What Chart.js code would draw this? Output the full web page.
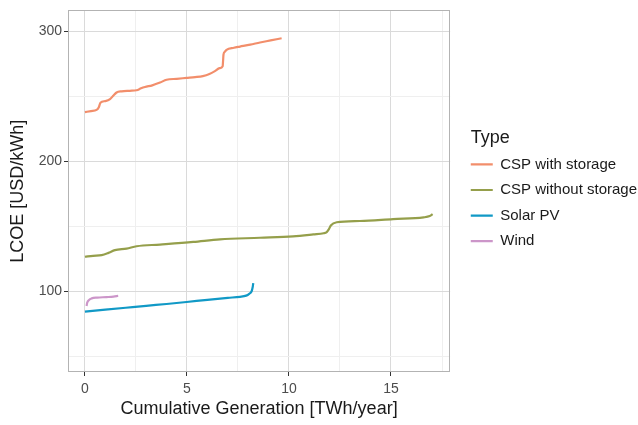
<!DOCTYPE html>
<html>
<head>
<meta charset="utf-8">
<script src="https://cdn.jsdelivr.net/npm/chart.js@4"></script>
<style>
  html, body { margin: 0; padding: 0; background: #ffffff; }
  #wrap { width: 638px; height: 425px; overflow: hidden; }
</style>
</head>
<body>
<div id="wrap"><canvas id="c" width="638" height="425"></canvas></div>
<script>
// Cumulative generation (TWh/year) and LCOE (USD/kWh) supply curves per technology
const cspStorageX = [0, 0.3, 0.57, 0.68, 0.76, 1.0, 1.23, 1.4, 1.55, 1.8, 2.2, 2.53, 2.75, 2.94, 3.3, 3.68, 4.0, 4.5, 4.98, 5.4, 5.78, 6.1, 6.37, 6.6, 6.75, 6.77, 6.79, 6.85, 6.94, 7.3, 7.6, 8.1, 8.58, 9.1, 9.64];
const cspStorageY = [237.7, 238.5, 239.4, 241.5, 244.9, 246.2, 247.7, 250.5, 252.8, 253.7, 254.1, 254.5, 256, 257, 258.3, 260.4, 262.6, 263.3, 264, 264.6, 265.4, 267, 269.2, 271.5, 273, 277, 281.8, 284, 285.6, 287.2, 288.1, 289.6, 291.2, 292.8, 294.5];

const cspNoStorageX = [0, 0.4, 0.82, 1.15, 1.47, 2.04, 2.53, 3.68, 5.31, 6.62, 8.58, 10.2, 11.19, 11.7, 11.85, 11.95, 12.05, 12.34, 13.48, 15.1, 16.6, 16.9, 17.04];
const cspNoStorageY = [126.5, 127.2, 127.8, 129.5, 131.6, 132.8, 134.6, 135.9, 137.9, 139.9, 141.1, 142.2, 143.7, 144.6, 145.5, 147.5, 150.5, 153, 154, 155.5, 156.8, 157.8, 159.3];

const solarPvX = [0, 1, 2, 3, 4, 4.98, 6, 7, 7.6, 7.9, 8.05, 8.17, 8.22, 8.25];
const solarPvY = [84.3, 85.8, 87.3, 88.8, 90.2, 91.7, 93.4, 94.9, 95.7, 96.6, 98, 100, 103, 106.3];

const windX = [0.08, 0.11, 0.2, 0.33, 0.6, 1.06, 1.4, 1.63];
const windY = [88.6, 91.1, 93.3, 94.5, 95.1, 95.5, 95.9, 96.5];

const seriesNames = ['CSP with storage', 'CSP without storage', 'Solar PV', 'Wind'];
const seriesColors = ['#F28E6B', '#959F4B', '#1199C6', '#CC96C9'];
const legendHeading = 'Type';

const xTicks = [0, 2.5, 5, 7.5, 10, 12.5, 15, 17.5];
const yTicks = [50, 100, 150, 200, 250, 300];

const FONT = '"Liberation Sans", Arial, Helvetica, sans-serif';

function pairs(xs, ys) { return xs.map((x, i) => ({ x: x, y: ys[i] })); }
const seriesData = [
  pairs(cspStorageX, cspStorageY),
  pairs(cspNoStorageX, cspNoStorageY),
  pairs(solarPvX, solarPvY),
  pairs(windX, windY)
];

const isMajorX = v => v % 5 === 0;
const isMajorY = v => v % 100 === 0;

// grey frame around the plotting panel
const panelFrame = {
  id: 'panelFrame',
  beforeDatasetsDraw(chart) {
    const a = chart.chartArea, ctx = chart.ctx;
    ctx.save();
    ctx.strokeStyle = '#B3B3B3';
    ctx.lineWidth = 1;
    ctx.strokeRect(Math.round(a.left) + 0.5, Math.round(a.top) + 0.5,
                   Math.round(a.right - a.left) - 1, Math.round(a.bottom - a.top) - 1);
    ctx.restore();
  }
};

// legend heading, left-aligned with the legend keys
const legendTitle = {
  id: 'legendTitle',
  afterDraw(chart) {
    const lg = chart.legend;
    if (!lg || !lg.legendHitBoxes || !lg.legendHitBoxes.length) return;
    const hb = lg.legendHitBoxes[0];
    const ctx = chart.ctx;
    ctx.save();
    ctx.fillStyle = '#1A1A1A';
    ctx.font = '18px ' + FONT;
    ctx.textAlign = 'left';
    ctx.textBaseline = 'middle';
    ctx.fillText(legendHeading, hb.left, hb.top + hb.height / 2 - 26);
    ctx.restore();
  }
};

new Chart(document.getElementById('c'), {
  type: 'line',
  data: {
    datasets: seriesData.map((d, i) => ({
      label: seriesNames[i],
      data: d,
      borderColor: seriesColors[i],
      backgroundColor: seriesColors[i],
      borderWidth: 2.2,
      pointRadius: 0,
      cubicInterpolationMode: 'monotone',
      fill: false
    }))
  },
  options: {
    responsive: false,
    animation: false,
    devicePixelRatio: 1,
    // the legend box carries some trailing blank space, let it run past the right edge
    layout: { padding: { top: 5, left: 0, right: -9, bottom: 0 } },
    plugins: {
      tooltip: { enabled: false },
      legend: {
        position: 'right',
        align: 'center',
        fullSize: false,
        maxWidth: 220,
        title: {
          display: true,
          text: '',
          font: { family: FONT, size: 18 },
          padding: { top: 0, bottom: 1.6 }
        },
        labels: {
          usePointStyle: true,
          pointStyle: 'line',
          pointStyleWidth: 22,
          padding: 10.6,
          color: '#1A1A1A',
          font: { family: FONT, size: 15 }
        }
      }
    },
    scales: {
      x: {
        type: 'linear',
        min: -0.83,
        max: 17.9,
        afterBuildTicks: s => { s.ticks = xTicks.map(v => ({ value: v })); },
        afterFit: s => { s.height = 53; },
        border: { display: false },
        grid: {
          color: c => (c.tick && isMajorX(c.tick.value)) ? '#DADADA' : '#EFEFEF',
          lineWidth: 1,
          drawTicks: true,
          tickLength: 4,
          tickColor: c => (c.tick && isMajorX(c.tick.value)) ? '#333333' : 'rgba(0,0,0,0)'
        },
        ticks: {
          autoSkip: false,
          maxRotation: 0,
          padding: 5,
          color: '#4D4D4D',
          font: { family: FONT, size: 14 },
          callback: v => isMajorX(v) ? String(v) : ''
        },
        title: {
          display: true,
          text: 'Cumulative Generation [TWh/year]',
          color: '#1A1A1A',
          font: { family: FONT, size: 18 },
          padding: { top: 0, bottom: 5 }
        }
      },
      y: {
        type: 'linear',
        min: 37.9,
        max: 315.9,
        afterBuildTicks: s => { s.ticks = yTicks.map(v => ({ value: v })); },
        afterFit: s => { s.width = 68; },
        border: { display: false },
        grid: {
          color: c => (c.tick && isMajorY(c.tick.value)) ? '#DADADA' : '#EFEFEF',
          lineWidth: 1,
          drawTicks: true,
          tickLength: 4,
          tickColor: c => (c.tick && isMajorY(c.tick.value)) ? '#333333' : 'rgba(0,0,0,0)'
        },
        ticks: {
          autoSkip: false,
          padding: 2,
          color: '#4D4D4D',
          font: { family: FONT, size: 14 },
          callback: v => isMajorY(v) ? String(v) : ''
        },
        title: {
          display: true,
          text: 'LCOE [USD/kWh]',
          color: '#1A1A1A',
          font: { family: FONT, size: 18 },
          padding: { top: 7, bottom: 0 }
        }
      },
      // empty axis that keeps a gap between the panel and the legend
      gap: {
        type: 'linear',
        position: 'right',
        display: true,
        afterFit: s => { s.width = 10; },
        border: { display: false },
        grid: { display: false, drawTicks: false },
        ticks: { display: false },
        title: { display: false }
      }
    }
  },
  plugins: [panelFrame, legendTitle]
});
</script>
</body>
</html>
